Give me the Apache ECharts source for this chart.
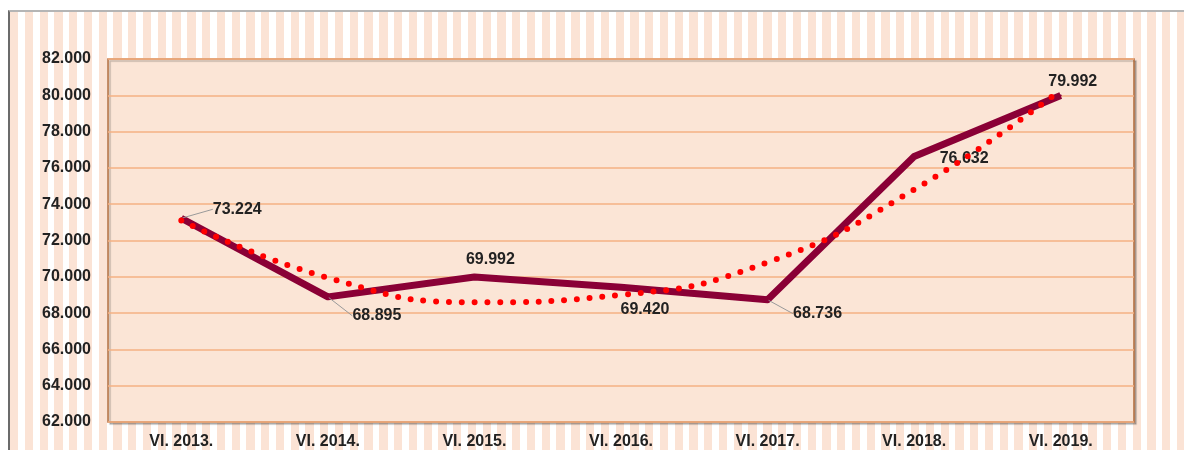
<!DOCTYPE html>
<html>
<head>
<meta charset="utf-8">
<script src="https://cdn.jsdelivr.net/npm/echarts@6/dist/echarts.min.js"></script>
<style>
  html, body { margin: 0; padding: 0; background: #fff; }
  #wrap { position: relative; width: 1184px; height: 450px; overflow: hidden; }
  #frame {
    position: absolute; left: 8px; top: 10px; width: 1300px; height: 600px;
    border-left: 2px solid #6b6b6b; border-top: 2px solid #b5b5b5;
    background: repeating-linear-gradient(90deg, #fbe3d5 0px, #fbe3d5 8.3px, #ffffff 8.3px, #ffffff 14.77px);
  }
  #main { position: absolute; left: 0; top: 0; width: 1184px; height: 450px; }
</style>
</head>
<body>
<div id="wrap">
  <div id="frame"></div>
  <div id="main"></div>
</div>
<script>
  // 类别与数据
  var categories = ['VI. 2013.', 'VI. 2014.', 'VI. 2015.', 'VI. 2016.', 'VI. 2017.', 'VI. 2018.', 'VI. 2019.'];
  var values = [73.224, 68.895, 69.992, 69.420, 68.736, 76.632, 79.992];
  // 趋势线
  var trendValues = [73.1, 69.95, 68.6, 69.0, 70.8, 74.8, 80.3];

  // 标签位置偏移（dx, dy）以及是否显示引导线
  var labelShift = [[56, -9], [49, 19], [16, -17], [24, 22], [50, 14], [50, 2], [12, -14]];
  var leader = [true, true, false, false, true, false, false];

  var font = 'Liberation Sans, Arial, sans-serif';

  var chart = echarts.init(document.getElementById('main'));

  var mainData = values.map(function (v, i) {
    return { value: v, labelLine: { show: leader[i] } };
  });

  var option = {
    animation: false,
    backgroundColor: 'transparent',
    grid: {
      show: true,
      left: 108, top: 59, right: 50, bottom: 28,
      backgroundColor: '#fbe5d6',
      borderColor: '#b0693a',
      borderWidth: 1.5,
      shadowColor: 'rgba(0,0,0,0.22)',
      shadowBlur: 1,
      shadowOffsetX: 2,
      shadowOffsetY: 2
    },
    xAxis: {
      type: 'category',
      data: categories,
      axisLine: { show: false },
      axisTick: { show: false },
      axisLabel: {
        margin: 12,
        color: '#222',
        fontWeight: 'bold',
        fontSize: 16,
        fontFamily: font
      }
    },
    yAxis: {
      type: 'value',
      min: 62,
      max: 82,
      interval: 2,
      axisLine: { show: false },
      axisTick: { show: false },
      splitLine: { lineStyle: { color: '#f4b183', width: 1.5 } },
      axisLabel: {
        margin: 17,
        color: '#222',
        fontWeight: 'bold',
        fontSize: 16,
        fontFamily: font,
        formatter: function (v) { return v.toFixed(3); }
      }
    },
    series: [{
      name: 'main',
      type: 'line',
      data: mainData,
      symbol: 'circle',
      symbolSize: 2,
      showSymbol: true,
      itemStyle: { color: '#8a0036' },
      lineStyle: { color: '#8a0036', width: 7, join: 'round' },
      label: {
        show: true,
        position: 'inside',
        color: '#222',
        fontWeight: 'bold',
        fontSize: 16,
        fontFamily: font,
        formatter: function (p) { return p.value.toFixed(3); }
      },
      labelLine: {
        show: false,
        lineStyle: { color: '#9a9a9a', width: 1 }
      },
      labelLayout: function (params) {
        var s = labelShift[params.dataIndex];
        return { dx: s[0], dy: s[1] };
      },
      z: 2
    }, {
      name: 'trend',
      type: 'line',
      data: trendValues,
      smooth: true,
      symbol: 'none',
      lineStyle: { color: '#ff0000', width: 6, type: [0, 12.8], cap: 'round' },
      z: 3
    }]
  };

  chart.setOption(option);
</script>
</body>
</html>
